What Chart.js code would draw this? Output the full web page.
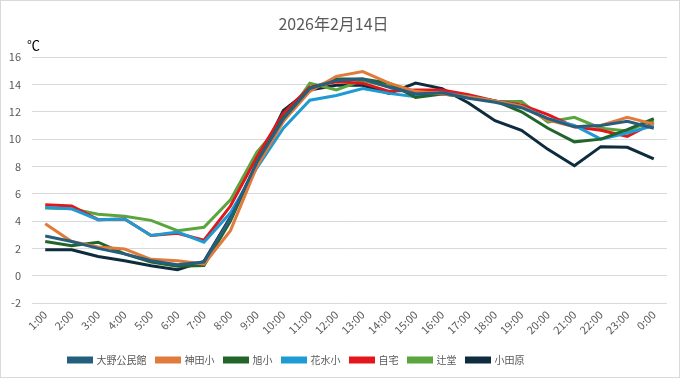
<!DOCTYPE html>
<html>
<head>
<meta charset="utf-8">
<script src="https://cdn.jsdelivr.net/npm/chart.js@4/dist/chart.umd.min.js"></script>
<style>
  html, body { margin: 0; padding: 0; background: #ffffff; }
  #wrap { width: 681px; height: 379px; position: relative; }
</style>
</head>
<body>
<div id="wrap"><canvas id="c" width="681" height="379"></canvas></div>
<script>
const hours = ["1:00","2:00","3:00","4:00","5:00","6:00","7:00","8:00","9:00","10:00","11:00","12:00",
               "13:00","14:00","15:00","16:00","17:00","18:00","19:00","20:00","21:00","22:00","23:00","0:00"];

const ohnoKominkan = [2.9, 2.5, 2.0, 1.6, 1.1, 0.8, 1.0, 4.2, 8.3, 11.5, 13.7, 14.3, 14.4, 13.8, 13.3, 13.4, 13.0, 12.7, 12.3, 11.5, 10.9, 11.0, 11.3, 10.8];
const kandaSho    = [3.8, 2.5, 2.1, 1.95, 1.2, 1.1, 0.85, 3.3, 8.0, 11.3, 13.5, 14.6, 14.95, 14.1, 13.5, 13.3, 13.1, 12.8, 12.4, 11.4, 10.9, 11.0, 11.6, 11.1];
const asahiSho    = [2.5, 2.2, 2.45, 1.6, 1.0, 0.7, 0.75, 4.0, 8.3, 11.6, 13.7, 14.4, 14.4, 14.1, 13.05, 13.3, 13.1, 12.8, 12.0, 10.8, 9.8, 10.0, 10.7, 11.5];
const hanamizuSho = [5.0, 4.9, 4.1, 4.15, 2.95, 3.2, 2.45, 4.6, 7.9, 10.8, 12.85, 13.2, 13.7, 13.35, 13.1, 13.4, 13.1, 12.8, 12.4, 11.5, 11.0, 10.0, 10.45, 11.0];
const jitaku      = [5.2, 5.1, 4.1, 4.15, 2.95, 3.1, 2.6, 5.1, 8.7, 11.9, 13.8, 14.2, 14.1, 13.5, 13.6, 13.6, 13.25, 12.8, 12.5, 11.8, 10.9, 10.65, 10.2, 11.2];
const tsujido     = [4.95, 4.9, 4.5, 4.35, 4.05, 3.3, 3.55, 5.55, 9.05, 11.3, 14.1, 13.6, 14.3, 13.85, 13.4, 13.3, 13.1, 12.75, 12.75, 11.25, 11.6, 10.8, 10.6, 11.4];
const odawara     = [1.9, 1.9, 1.4, 1.1, 0.73, 0.44, 1.05, 4.3, 8.2, 12.1, 13.6, 13.95, 13.95, 13.35, 14.1, 13.7, 12.65, 11.35, 10.65, 9.25, 8.05, 9.45, 9.4, 8.55];

const seriesNames  = ["大野公民館", "神田小", "旭小", "花水小", "自宅", "辻堂", "小田原"];
const seriesValues = [ohnoKominkan, kandaSho, asahiSho, hanamizuSho, jitaku, tsujido, odawara];
const seriesColors = ["#255E7E", "#E07B3C", "#22652B", "#1E9BD2", "#E3161B", "#5BA53F", "#0E2C3D"];

const yTicks = [-2, 0, 2, 4, 6, 8, 10, 12, 14, 16];

const FONT = "'Noto Sans CJK JP', 'Noto Sans', 'Liberation Sans', sans-serif";
const GREY = "#595959";

const frame = {
  id: 'frame',
  beforeDraw(chart) {
    const ctx = chart.ctx;
    ctx.save();
    ctx.fillStyle = '#ffffff';
    ctx.fillRect(0, 0, chart.width, chart.height);
    ctx.strokeStyle = '#d9d9d9';
    ctx.lineWidth = 1;
    ctx.strokeRect(0.5, 0.5, 679, 377);
    ctx.restore();
  },
  afterLayout(chart) {
    if (chart.legend) {
      chart.legend.left -= 37;
      chart.legend.right -= 37;
    }
  },
  afterDraw(chart) {
    const ctx = chart.ctx;
    ctx.save();
    ctx.fillStyle = '#000000';
    ctx.font = "13px " + FONT;
    ctx.textAlign = 'left';
    ctx.textBaseline = 'middle';
    ctx.fillText("℃", 27, 45);
    ctx.restore();
  }
};

new Chart(document.getElementById('c'), {
  type: 'line',
  data: {
    labels: hours,
    datasets: seriesNames.map((n, i) => ({
      label: n,
      data: seriesValues[i],
      borderColor: seriesColors[i],
      backgroundColor: seriesColors[i],
      borderWidth: 3,
      pointRadius: 0,
      tension: 0,
      fill: false
    }))
  },
  options: {
    responsive: false,
    animation: false,
    layout: { padding: { left: 0, right: 14, top: 0, bottom: 4 } },
    plugins: {
      title: {
        display: true,
        text: "2026年2月14日",
        color: GREY,
        font: { family: FONT, size: 16, weight: 'normal' },
        padding: { top: 14, bottom: 24 }
      },
      legend: {
        position: 'bottom',
        labels: {
          color: GREY,
          font: { family: FONT, size: 10 },
          boxWidth: 23,
          boxHeight: 4,
          padding: 10
        }
      },
      tooltip: { enabled: false }
    },
    scales: {
      x: {
        offset: true,
        grid: { display: false, drawTicks: false },
        border: { display: false },
        ticks: {
          color: GREY,
          font: { family: FONT, size: 11 },
          minRotation: 45,
          maxRotation: 45,
          padding: 5,
          autoSkip: false
        },
        afterFit(scale) { scale.height = 42; }
      },
      y: {
        min: -2,
        max: 16,
        afterBuildTicks(scale) { scale.ticks = yTicks.map(v => ({ value: v })); },
        grid: { color: '#d9d9d9', lineWidth: 1, drawTicks: false },
        border: { display: false },
        ticks: {
          color: GREY,
          font: { family: FONT, size: 11 },
          padding: 11
        },
        afterFit(scale) { scale.width = 32; }
      }
    }
  },
  plugins: [frame]
});
</script>
</body>
</html>
